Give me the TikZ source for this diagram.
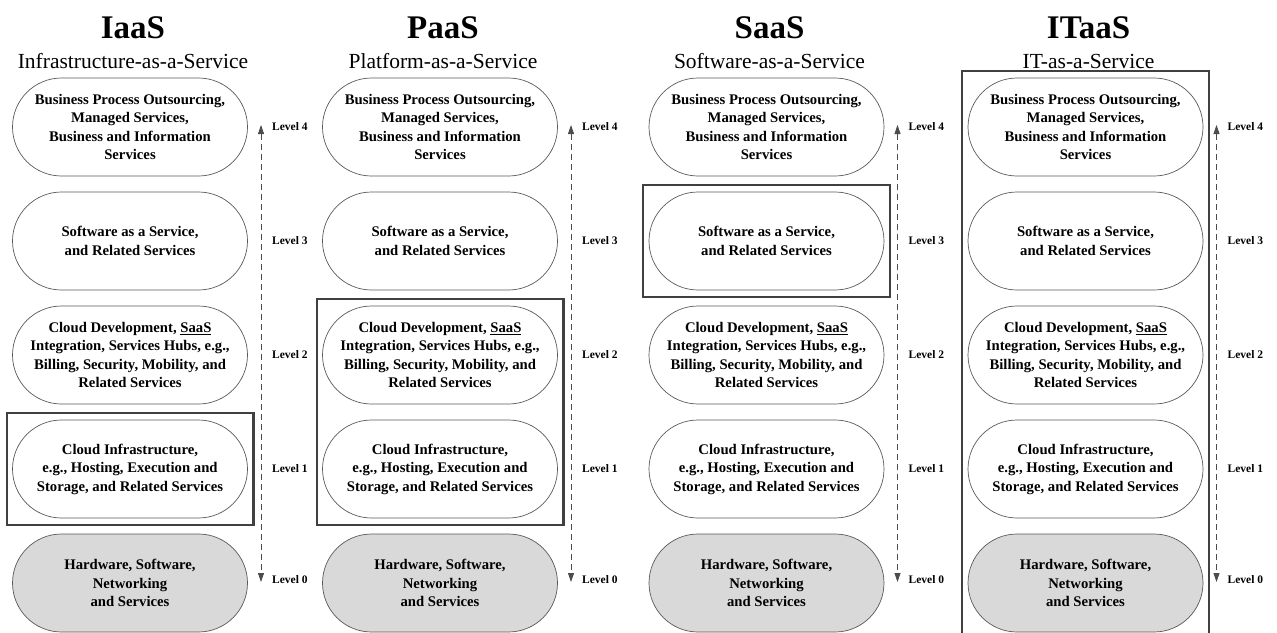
\documentclass[tikz,border=0pt]{standalone}
\usepackage{fontspec}
\setmainfont{Liberation Serif}
\usetikzlibrary{shapes.misc,fit,arrows.meta}

\begin{document}
\begin{tikzpicture}[x=1pt,y=-1pt,
  layer/.style={rounded rectangle, draw=black!65, line width=0.7pt,
    minimum width=235pt, minimum height=98pt, inner sep=0pt, align=center,
    font=\bfseries\fontsize{14.7}{18.5}\selectfont},
  base/.style={layer, fill=black!15},
  scope box/.style={rectangle, draw=black!75, line width=2.3pt,
    inner xsep=5.5pt, inner ysep=6.5pt},
  levelarrow/.style={draw=black!70, line width=0.8pt, dash pattern=on 6pt off 4pt,
    {Triangle[length=9pt,width=6pt]}-{Triangle[length=9pt,width=6pt]}},
  lvl/.style={anchor=west, inner sep=0pt, font=\bfseries\fontsize{11.5}{13}\selectfont},
  heading/.style={anchor=base, inner sep=0pt, font=\bfseries\fontsize{33}{36}\selectfont},
  subheading/.style={anchor=base, inner sep=0pt, font=\fontsize{21.5}{24}\selectfont}]

\useasboundingbox (0,0) rectangle (1277,632);

\foreach \c/\cx/\ti/\sub in {1/130/IaaS/Infrastructure-as-a-Service,
                             2/440/PaaS/Platform-as-a-Service,
                             3/766.5/SaaS/Software-as-a-Service,
                             4/1085.5/ITaaS/IT-as-a-Service}{
  % column headings
  \node[heading]    (c\c-title) at (\cx+3,38) {\ti};
  \node[subheading] (c\c-sub)   at (\cx+3,68) {\sub};

  % service layers, top to bottom
  \node[layer] (c\c-l4) at (\cx,127) {Business Process Outsourcing,\\Managed Services,\\Business and Information\\Services};
  \node[layer] (c\c-l3) at (\cx,241) {Software as a Service,\\and Related Services};
  \node[layer] (c\c-l2) at (\cx,355) {Cloud Development, \underline{SaaS}\\Integration, Services Hubs, e.g.,\\Billing, Security, Mobility, and\\Related Services};
  \node[layer] (c\c-l1) at (\cx,469) {Cloud Infrastructure,\\e.g., Hosting, Execution and\\Storage, and Related Services};
  \node[base]  (c\c-l0) at (\cx,583) {Hardware, Software,\\Networking\\and Services};

  % level scale
  \coordinate (c\c-top) at (\cx+131,125);
  \coordinate (c\c-bot) at (\cx+131,582);
  \draw[levelarrow] (c\c-top) -- (c\c-bot);
  \node[lvl] (c\c-v4) at (\cx+142,127) {Level 4};
  \node[lvl] (c\c-v3) at (\cx+142,241) {Level 3};
  \node[lvl] (c\c-v2) at (\cx+142,355) {Level 2};
  \node[lvl] (c\c-v1) at (\cx+142,469) {Level 1};
  \node[lvl] (c\c-v0) at (\cx+142,580) {Level 0};
}

% scope of each service model
\node[scope box, fit=(c1-l1)] (box-iaas) {};
\node[scope box, fit=(c2-l2)(c2-l1)] (box-paas) {};
\node[scope box, fit=(c3-l3)] (box-saas) {};
\node[scope box, fit=(c4-l4)(c4-l0)] (box-itaas) {};
\end{tikzpicture}
\end{document}
